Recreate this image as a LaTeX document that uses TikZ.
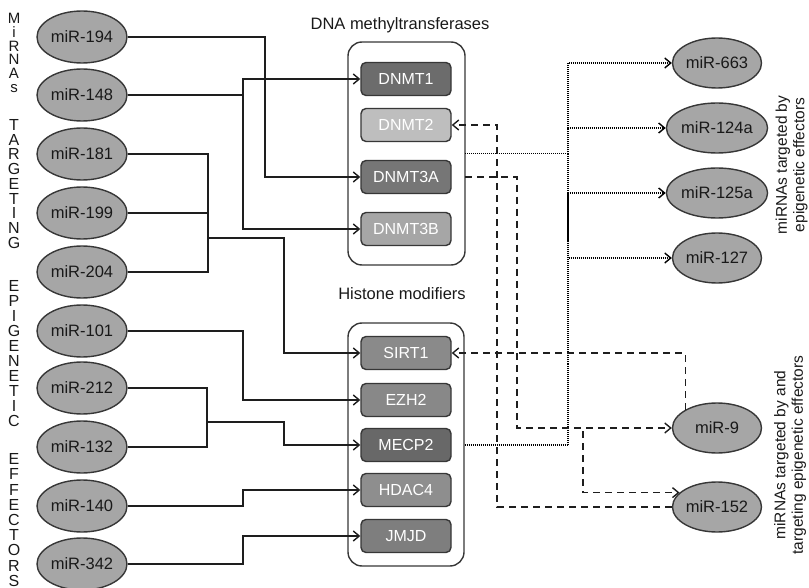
\documentclass[tikz,border=0pt]{standalone}
\usepackage{fontspec}
\setmainfont{Liberation Sans}
\usetikzlibrary{shapes.geometric,arrows.meta}

\definecolor{edge}{RGB}{55,55,55}
\definecolor{wire}{RGB}{30,30,30}
\definecolor{mirfill}{RGB}{166,166,166}
\definecolor{txt}{RGB}{25,25,25}
\definecolor{cA}{RGB}{108,108,108}
\definecolor{cB}{RGB}{190,190,190}
\definecolor{cC}{RGB}{118,118,118}
\definecolor{cD}{RGB}{166,166,166}
\definecolor{cE}{RGB}{138,138,138}
\definecolor{cF}{RGB}{136,136,136}
\definecolor{cG}{RGB}{104,104,104}
\definecolor{cH}{RGB}{142,142,142}
\definecolor{cI}{RGB}{126,126,126}

\begin{document}
\begin{tikzpicture}[x=1pt,y=-1pt,
  mir/.style={ellipse, draw=edge, line width=1.4pt, fill=mirfill, inner sep=0pt,
    minimum width=90pt, minimum height=52pt, text=txt,
    font=\fontsize{16.5}{18}\selectfont},
  rmir/.style={mir, minimum width=89pt, minimum height=50pt},
  enz/.style={rectangle, rounded corners=5pt, draw=edge, line width=1.4pt,
    minimum width=90pt, minimum height=33pt, inner sep=0pt, text=white,
    font=\fontsize{16}{18}\selectfont},
  grp/.style={rectangle, rounded corners=14pt, draw=edge, line width=1.4pt,
    fill=white, inner sep=0pt, outer sep=0pt},
  title/.style={font=\fontsize{16.5}{18}\selectfont, text=txt, inner sep=0pt},
  side/.style={rotate=90, align=center, text=txt, inner sep=0pt,
    font=\fontsize{15.5}{17.5}\selectfont},
  letters/.style={text=txt, align=center, inner sep=0pt},
  tip/.style={-{Straight Barb[length=6pt,width=10pt,line width=1.4pt]}},
  plain/.style={draw=wire, line width=1.5pt},
  link/.style={plain, tip},
  dots/.style={draw=black, line width=1.4pt, dash pattern=on 1pt off 1pt},
  dotlink/.style={dots, -{Straight Barb[length=6pt,width=10pt,line width=1.4pt]}},
  dashlink/.style={draw=wire, line width=1.5pt, dash pattern=on 7pt off 5pt,
    -{Straight Barb[length=6pt,width=10pt,line width=1.4pt]}},
]
\useasboundingbox (0,0) rectangle (809,588);

% vertical caption on the left
\node[letters, font=\fontsize{15}{13.8}\selectfont] (wA) at (14,53) {M\\i\\R\\N\\A\\s};
\node[letters, font=\fontsize{16}{14.75}\selectfont] (wB) at (14,184) {T\\A\\R\\G\\E\\T\\I\\N\\G};
\node[letters, font=\fontsize{16}{15}\selectfont] (wC) at (14,354) {E\\P\\I\\G\\E\\N\\E\\T\\I\\C};
\node[letters, font=\fontsize{16}{15.2}\selectfont] (wD) at (14,520) {E\\F\\F\\E\\C\\T\\O\\R\\S};

% miRNAs targeting epigenetic effectors
\foreach \n/\y in {194/37,148/95,181/154,199/213,204/272,101/331,212/388,132/447,140/506,342/564}
  \node[mir] (m\n) at (82,\y) {miR-\n};

% enzyme groups
\node[grp, minimum width=117pt, minimum height=223pt] (dg) at (406.5,153.5) {};
\node[title] (tdg) at (400,25) {DNA methyltransferases};
\node[grp, minimum width=116pt, minimum height=243pt] (hg) at (406,444.5) {};
\node[title] (thg) at (402,294) {Histone modifiers};

\node[enz, fill=cA] (dnmt1)  at (406,79)  {DNMT1};
\node[enz, fill=cB] (dnmt2)  at (406,125) {DNMT2};
\node[enz, fill=cC] (dnmt3a) at (406,177) {DNMT3A};
\node[enz, fill=cD] (dnmt3b) at (406,229) {DNMT3B};
\node[enz, fill=cE] (sirt1)  at (406,353) {SIRT1};
\node[enz, fill=cF] (ezh2)   at (406,400) {EZH2};
\node[enz, fill=cG] (mecp2)  at (406,445) {MECP2};
\node[enz, fill=cH] (hdac4)  at (406,490) {HDAC4};
\node[enz, fill=cI] (jmjd)   at (406,536) {JMJD};

% miRNAs on the right
\node[rmir] (m663)  at (717,63)  {miR-663};
\node[rmir] (m124a) at (717,128) {miR-124a};
\node[rmir] (m125a) at (717,193) {miR-125a};
\node[rmir] (m127)  at (717,258) {miR-127};
\node[rmir] (m9)    at (717,428) {miR-9};
\node[rmir] (m152)  at (717,507) {miR-152};

\node[side] (sA) at (791.5,165) {miRNAs targeted by\\epigenetic effectors};
\node[side] (sB) at (790,455) {miRNAs targeted by and\\targeting epigenetic effectors};

% vertical buses
\coordinate (busA) at (243,0);
\coordinate (busB) at (265,0);
\coordinate (busD) at (284,0);
\coordinate (busE) at (497,0);
\coordinate (busF) at (517,0);
\coordinate (busR) at (568,0);
\coordinate (busG) at (583,0);
\coordinate (j1) at (208,238);
\coordinate (j2) at (207,422);

% solid links into the enzymes
\draw[link] (m194.east) -- (m194.east -| busB) |- (dnmt3a.west);
\draw[link] (m148.east) -- (m148.east -| busA) |- (dnmt1.west);
\draw[link] (m148.east) -- (m148.east -| busA) |- (dnmt3b.west);
\draw[link] (m181.east) -| (j1) -- (j1 -| busD) |- (sirt1.west);
\draw[plain] (m199.east) -| (j1);
\draw[plain] (m204.east) -| (j1);
\draw[link] (m101.east) -- (m101.east -| busA) |- (ezh2.west);
\draw[link] (m212.east) -| (j2) -- (j2 -| busD) |- (mecp2.west);
\draw[plain] (m132.east) -| (j2);
\draw[link] (m140.east) -- (m140.east -| busA) |- (hdac4.west);
\draw[link] (m342.east) -- (m342.east -| busA) |- (jmjd.west);

% dotted links to miRNAs targeted by effectors
\foreach \t in {m663,m124a,m125a,m127}
  \draw[dotlink] (dg.east) -- (dg.east -| busR) |- (\t.west);
% MECP2 joins the same bus up to the miR-125a branch
\draw[dots, dash phase=1.5pt] (hg.east |- mecp2.east) -- (mecp2.east -| busR) -- (m125a.west -| busR);

% dashed links
\draw[dashlink] (m152.west) -- (m152.west -| busE) |- (dnmt2.east);
\draw[dashlink] (dg.east |- dnmt3a.east) -- (dnmt3a.east -| busF) |- (m9.west);
\draw[dashlink] (dg.east |- dnmt3a.east) -- (dnmt3a.east -| busF) |- (m9.west -| busG) |- (m152.159);
\draw[dashlink] (m9.150) |- (sirt1.east);
\end{tikzpicture}
\end{document}
